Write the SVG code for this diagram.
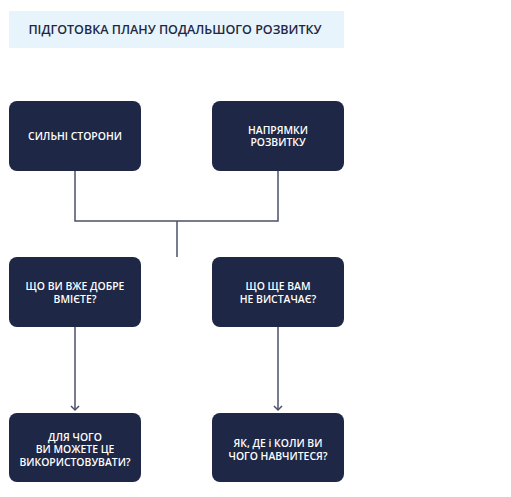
<svg xmlns="http://www.w3.org/2000/svg" width="511" height="497" viewBox="0 0 511 497">
<style>
.box{fill:#1e2745}
.t{font-family:"Open Sans","Noto Sans",sans-serif;font-size:10.4px;font-weight:600;fill:#ffffff;text-anchor:middle}
.title{font-family:"Open Sans","Noto Sans",sans-serif;font-size:12.5px;font-weight:600;fill:#1e2745;text-anchor:middle}
.c{fill:none;stroke:#4b5068;stroke-width:1.5}
</style>
<defs>
<marker id="arr" markerWidth="10" markerHeight="10" refX="5" refY="5" orient="auto" markerUnits="userSpaceOnUse">
<path d="M1,1 L5,5 L1,9" fill="none" stroke="#4b5068" stroke-width="1.5"/>
</marker>
</defs>
<rect width="511" height="497" fill="#ffffff"/>
<g id="title">
<rect x="9" y="11" width="335" height="37" fill="#e8f4fb"/>
<text class="title" x="175" y="34">ПІДГОТОВКА ПЛАНУ ПОДАЛЬШОГО РОЗВИТКУ</text>
</g>
<g id="connectors">
<path class="c" d="M75,171 V221 H278 V171"/>
<path class="c" d="M177,221 V257"/>
<path class="c" d="M75,327 V410" marker-end="url(#arr)"/>
<path class="c" d="M278,327 V410" marker-end="url(#arr)"/>
</g>
<g id="n1">
<rect class="box" x="9" y="101" width="132" height="70" rx="8"/>
<text class="t" x="75" y="140">СИЛЬНІ СТОРОНИ</text>
</g>
<g id="n2">
<rect class="box" x="212" y="101" width="132" height="70" rx="8"/>
<text class="t" x="278" y="133.5">НАПРЯМКИ</text>
<text class="t" x="278" y="146">РОЗВИТКУ</text>
</g>
<g id="n3">
<rect class="box" x="9" y="257" width="132" height="70" rx="8"/>
<text class="t" x="75" y="290">ЩО ВИ ВЖЕ ДОБРЕ</text>
<text class="t" x="75" y="302.5">ВМІЄТЕ?</text>
</g>
<g id="n4">
<rect class="box" x="212" y="257" width="132" height="70" rx="8"/>
<text class="t" x="278" y="290">ЩО ЩЕ ВАМ</text>
<text class="t" x="278" y="302.5">НЕ ВИСТАЧАЄ?</text>
</g>
<g id="n5">
<rect class="box" x="9" y="413" width="132" height="69" rx="8"/>
<text class="t" x="75" y="440.5">ДЛЯ ЧОГО</text>
<text class="t" x="75" y="453">ВИ МОЖЕТЕ ЦЕ</text>
<text class="t" x="75" y="465.5">ВИКОРИСТОВУВАТИ?</text>
</g>
<g id="n6">
<rect class="box" x="212" y="413" width="132" height="69" rx="8"/>
<text class="t" x="278" y="447">ЯК, ДЕ і КОЛИ ВИ</text>
<text class="t" x="278" y="459.5">ЧОГО НАВЧИТЕСЯ?</text>
</g>
</svg>
